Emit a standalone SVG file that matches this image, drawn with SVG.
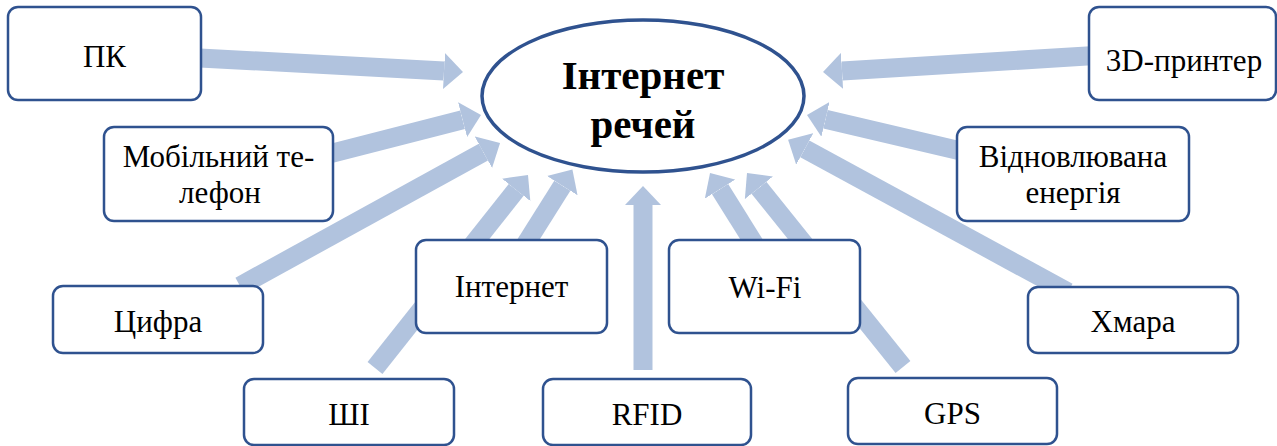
<svg xmlns="http://www.w3.org/2000/svg" width="1277" height="446" viewBox="0 0 1277 446">
<style>
.box{fill:#ffffff;stroke:#2f528f;stroke-width:2.5}
.t{font-size:31px;fill:#000;text-anchor:middle}
.title{font-size:41px;font-weight:bold;fill:#000;text-anchor:middle}
.arr{stroke:#b1c3de;stroke-width:19;fill:none;marker-end:url(#head)}
</style>
<defs>
<marker id="head" markerUnits="userSpaceOnUse" markerWidth="20" markerHeight="36" refX="0" refY="18" orient="auto">
<path d="M0,0 L19,18 L0,36 Z" fill="#b1c3de"/>
</marker>
</defs>
<rect width="1277" height="446" fill="#ffffff"/>
<g id="connectors">
<line class="arr" x1="195" y1="57.7" x2="444" y2="71"/>
<line class="arr" x1="325" y1="155" x2="462.6" y2="119.7"/>
<line class="arr" x1="240" y1="286" x2="483.4" y2="152.2"/>
<line class="arr" x1="375" y1="368" x2="516.2" y2="189.9"/>
<line class="arr" x1="525" y1="245" x2="562.3" y2="185.7"/>
<line class="arr" x1="643" y1="370" x2="643" y2="205"/>
<line class="arr" x1="755" y1="245" x2="720.1" y2="189.1"/>
<line class="arr" x1="903" y1="367" x2="758.9" y2="187.8"/>
<line class="arr" x1="1068" y1="292" x2="804.8" y2="148.9"/>
<line class="arr" x1="965" y1="152" x2="825.5" y2="119.3"/>
<line class="arr" x1="1095" y1="55.6" x2="842" y2="70.9"/>
</g>
<g font-family="'Liberation Serif', 'Times New Roman', 'DejaVu Serif', serif">
<g id="center">
<ellipse cx="643" cy="96" rx="161" ry="76" fill="#ffffff" stroke="#2f528f" stroke-width="3.5"/>
<text class="title" x="643" y="89">Інтернет</text>
<text class="title" x="643" y="138">речей</text>
</g>
<g id="pk"><rect class="box" x="8" y="7" width="193" height="93" rx="10"/><text class="t" x="104.5" y="67">ПК</text></g>
<g id="mobile"><rect class="box" x="104" y="127" width="229" height="94" rx="10"/><text class="t" x="218.5" y="167">Мобільний те-</text><text class="t" x="220" y="203">лефон</text></g>
<g id="printer"><rect class="box" x="1089" y="7" width="187" height="93" rx="10"/><text class="t" x="1184" y="71">3D-принтер</text></g>
<g id="energy"><rect class="box" x="957" y="127" width="232" height="94" rx="10"/><text class="t" x="1073" y="167">Відновлювана</text><text class="t" x="1073" y="203">енергія</text></g>
<g id="digit"><rect class="box" x="53" y="286" width="210" height="67" rx="10"/><text class="t" x="158" y="332">Цифра</text></g>
<g id="internet"><rect class="box" x="416" y="240" width="191" height="93" rx="10"/><text class="t" x="511.5" y="297">Інтернет</text></g>
<g id="wifi"><rect class="box" x="669" y="240" width="191" height="93" rx="10"/><text class="t" x="765" y="298">Wi-Fi</text></g>
<g id="cloud"><rect class="box" x="1028" y="287" width="210" height="66" rx="10"/><text class="t" x="1133" y="332">Хмара</text></g>
<g id="ai"><rect class="box" x="244" y="379" width="210" height="66" rx="10"/><text class="t" x="349" y="425">ШІ</text></g>
<g id="rfid"><rect class="box" x="543" y="379" width="208" height="66" rx="10"/><text class="t" x="647" y="425">RFID</text></g>
<g id="gps"><rect class="box" x="848" y="378" width="209" height="66" rx="10"/><text class="t" x="952.5" y="424">GPS</text></g>
</g>
</svg>
